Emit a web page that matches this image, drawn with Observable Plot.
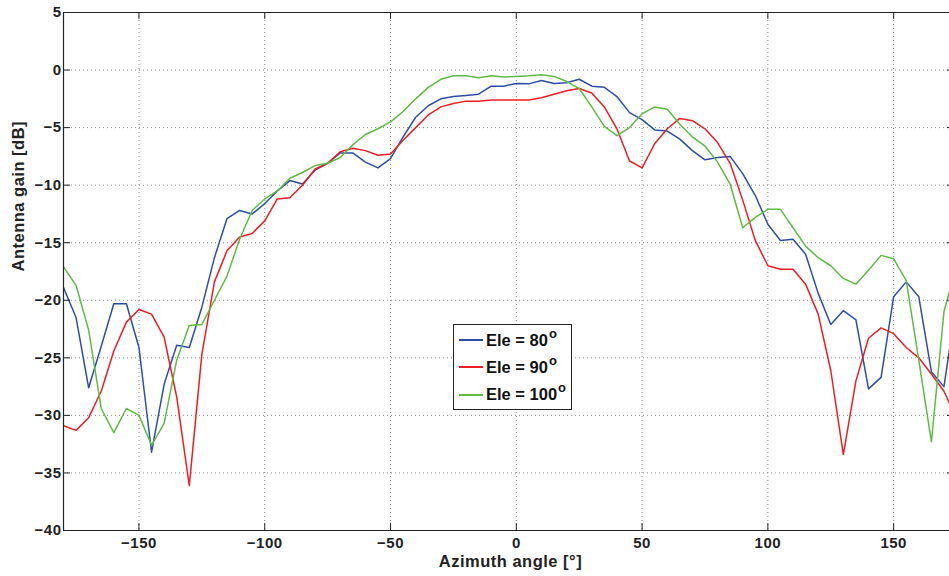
<!DOCTYPE html>
<html><head><meta charset="utf-8">
<script src="https://cdn.jsdelivr.net/npm/d3@7"></script>
<script src="https://cdn.jsdelivr.net/npm/@observablehq/plot@0.6"></script>
<style>
body{margin:0;background:#fff;}
#wrap{position:relative;width:949px;height:576px;font-family:"Liberation Sans",Arial,sans-serif;}
#legend{position:absolute;left:453px;top:324px;width:117px;height:84px;border:1px solid #222;background:#fff;font-weight:bold;font-size:16.5px;color:#111;}
.row{position:absolute;left:5px;height:20px;display:flex;align-items:center;white-space:nowrap;}
.sw{width:24px;height:2px;margin-right:3px;}
.sup{font-size:13px;position:relative;top:-7px;margin-left:1px;}
</style></head>
<body><div id="wrap"></div>
<script>
const angles = [-180,-175,-170,-165,-160,-155,-150,-145,-140,-135,-130,-125,-120,-115,-110,-105,-100,-95,-90,-85,-80,-75,-70,-65,-60,-55,-50,-45,-40,-35,-30,-25,-20,-15,-10,-5,0,5,10,15,20,25,30,35,40,45,50,55,60,65,70,75,80,85,90,95,100,105,110,115,120,125,130,135,140,145,150,155,160,165,170,175];
const ele80 = [-18.9,-21.5,-27.6,-24.0,-20.3,-20.3,-24.1,-33.2,-27.3,-23.9,-24.1,-20.6,-16.3,-12.9,-12.2,-12.5,-11.6,-10.5,-9.6,-9.9,-8.7,-8.1,-7.2,-7.2,-8.0,-8.5,-7.7,-5.8,-4.1,-3.1,-2.5,-2.3,-2.2,-2.1,-1.4,-1.4,-1.16,-1.2,-0.9,-1.16,-1.1,-0.8,-1.4,-1.5,-2.3,-3.7,-4.3,-5.2,-5.3,-6.0,-7.0,-7.8,-7.6,-7.5,-9.0,-10.9,-13.4,-14.8,-14.7,-16.0,-19.4,-22.1,-20.9,-21.7,-27.7,-26.7,-19.7,-18.4,-19.7,-26.2,-27.5,-20.1];
const ele90 = [-30.9,-31.3,-30.2,-27.9,-24.4,-21.9,-20.8,-21.2,-23.2,-28.4,-36.1,-24.7,-18.4,-15.7,-14.5,-14.2,-13.1,-11.2,-11.1,-10.0,-8.6,-8.1,-7.1,-6.8,-7.0,-7.4,-7.3,-6.1,-5.0,-3.9,-3.2,-2.9,-2.7,-2.7,-2.6,-2.6,-2.6,-2.6,-2.4,-2.1,-1.8,-1.6,-2.0,-3.2,-5.1,-7.9,-8.5,-6.4,-5.1,-4.2,-4.4,-5.1,-6.3,-8.1,-11.3,-14.8,-17.0,-17.3,-17.3,-18.6,-21.2,-26.1,-33.4,-27.0,-23.3,-22.4,-22.9,-24.1,-25.0,-26.4,-27.9,-30.3];
const ele100 = [-17.1,-18.7,-22.6,-29.4,-31.5,-29.4,-30.0,-32.6,-30.7,-25.2,-22.2,-22.1,-20.0,-17.9,-14.7,-12.2,-11.2,-10.5,-9.4,-8.9,-8.3,-8.1,-7.6,-6.5,-5.6,-5.1,-4.5,-3.6,-2.5,-1.5,-0.8,-0.5,-0.5,-0.66,-0.5,-0.6,-0.55,-0.5,-0.4,-0.55,-1.0,-1.6,-3.2,-4.9,-5.7,-5.0,-3.8,-3.2,-3.4,-4.7,-5.8,-6.6,-8.0,-9.9,-13.7,-12.8,-12.1,-12.1,-13.7,-15.3,-16.3,-17.0,-18.1,-18.6,-17.4,-16.1,-16.4,-18.3,-25.2,-32.3,-21.0,-17.0];
const xTicks = [-150,-100,-50,0,50,100,150];
const yTicks = [5,0,-5,-10,-15,-20,-25,-30,-35,-40];
const seriesNames = ["Ele = 80", "Ele = 90", "Ele = 100"];
const seriesColors = ["#2c4ea6", "#ee1d25", "#5fbb45"];
const xLabel = "Azimuth angle [°]";
const yLabel = "Antenna gain [dB]";

const series = [ele80, ele90, ele100];
const data = [];
series.forEach((vals, s) => angles.forEach((a, i) => data.push({a, v: vals[i], s: seriesNames[s]})));

const fmt = d => d < 0 ? "\u2212" + Math.abs(d) : String(d);
const grid = {stroke: "#8a8a8a", strokeOpacity: 1, strokeWidth: 1, strokeDasharray: "1,3"};
const font = {fontSize: 15, fontWeight: "bold", fill: "#222"};

const chart = Plot.plot({
  width: 949, height: 576,
  marginLeft: 63, marginRight: 0, marginTop: 12, marginBottom: 46,
  style: {fontFamily: "'Liberation Sans', Arial, sans-serif", background: "#fff", letterSpacing: "0.5px"},
  x: {domain: [-180, 172.2], ticks: xTicks, label: null},
  y: {domain: [-40, 5], ticks: yTicks, label: null},
  marks: [
    Plot.gridX(xTicks, grid),
    Plot.gridY(yTicks, grid),
    Plot.axisX(xTicks, {tickSize: 0, tickPadding: 7, tickFormat: fmt, label: null, ...font}),
    Plot.axisY(yTicks, {tickSize: 0, tickPadding: 2, tickFormat: fmt, label: null, ...font}),
    ...seriesNames.map((n, k) => Plot.line(data.filter(d => d.s === n), {x: "a", y: "v", stroke: seriesColors[k], strokeWidth: 1.5, clip: true})),
    Plot.ruleY([5], {stroke: "#222", strokeWidth: 1.2}),
    Plot.ruleY([-40], {stroke: "#222", strokeWidth: 1.2}),
    Plot.ruleX([-180], {stroke: "#222", strokeWidth: 1.2}),
    Plot.ruleX(xTicks, {y1: 5, y2: 4.4, stroke: "#222"}),
    Plot.ruleX(xTicks, {y1: -40, y2: -39.4, stroke: "#222"}),
    Plot.ruleY(yTicks, {x1: -180, x2: -177.2, stroke: "#222"}),
    Plot.ruleY(yTicks, {x1: 171.4, x2: 172.2, stroke: "#222"}),
    Plot.text([xLabel], {frameAnchor: "bottom", dy: 31, dx: 4, lineAnchor: "middle", text: d => d, fontSize: 16.5, fontWeight: "bold", fill: "#222"}),
    Plot.text([yLabel], {frameAnchor: "left", dx: -44.5, rotate: -90, lineAnchor: "middle", text: d => d, fontSize: 16.5, fontWeight: "bold", fill: "#222"})
  ]
});
const wrap = document.getElementById("wrap");
wrap.appendChild(chart);

const legend = document.createElement("div");
legend.id = "legend";
const rowTops = [5, 32.3, 59.7];
seriesNames.forEach((n, k) => {
  const row = document.createElement("div");
  row.className = "row";
  row.style.top = rowTops[k] + "px";
  const sw = document.createElement("span");
  sw.className = "sw";
  sw.style.background = seriesColors[k];
  const t = document.createElement("span");
  t.textContent = n;
  const sup = document.createElement("span");
  sup.className = "sup";
  sup.textContent = "o";
  row.append(sw, t, sup);
  legend.appendChild(row);
});
wrap.appendChild(legend);
</script>
</body></html>
